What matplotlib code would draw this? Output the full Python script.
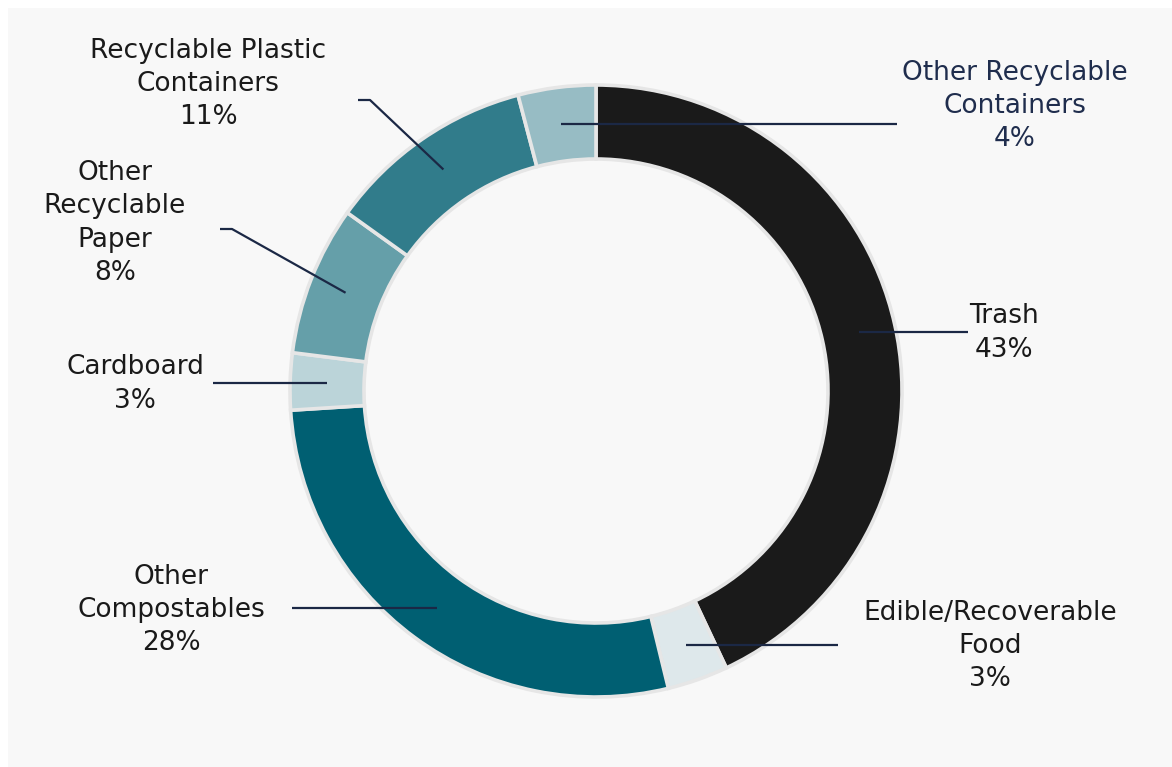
import numpy as np
import matplotlib
matplotlib.use("Agg")
import matplotlib.pyplot as plt
from matplotlib.patches import Rectangle

# clockwise from 12 o'clock
labels = ["Trash", "Edible/Recoverable\nFood", "Other\nCompostables", "Cardboard",
          "Other\nRecyclable\nPaper", "Recyclable Plastic\nContainers",
          "Other Recyclable\nContainers"]
shares = [43.0, 3.2, 27.8, 3.0, 7.9, 11.0, 4.1]
colors = ["#1a1a1a", "#dee8eb", "#005f72", "#bbd4d9", "#659fa9", "#317c8b", "#97bcc4"]
text_colors = ["#1a1a1a"] * 6 + ["#1f2d4d"]

W, H = 1172, 767
CX, CY = 596, H - 391
R_OUT, WIDTH = 306, 74
R_MID = R_OUT - WIDTH / 2
LEADER = "#1b2845"

# label layout (pixel coords, y measured from top): text centre, leader end, optional elbow
label_pos = [(1004, 333), (990, 646), (171, 610), (135, 384), (115, 223), (208, 84), (1015, 106)]
leader_end = [968, 838, 292, 213, 220, 358, 897]
elbow = [None, None, None, None, (232, 229), (370, 100), None]

fig = plt.figure(figsize=(W / 100, H / 100), dpi=100)
ax = fig.add_axes([0, 0, 1, 1])
fig.patch.set_facecolor("white")
ax.add_patch(Rectangle((8, 0), W - 8, H - 8, facecolor="#f8f8f8", edgecolor="none", zorder=0))

wedges, _ = ax.pie(shares, colors=colors, startangle=90, counterclock=False,
                   center=(CX, CY), radius=R_OUT, frame=True,
                   wedgeprops=dict(width=WIDTH, edgecolor="#e6e6e6", linewidth=2.6))
ax.set_xlim(0, W)
ax.set_ylim(0, H)
ax.set_aspect("equal")
ax.axis("off")

for i, w in enumerate(wedges):
    ang = np.deg2rad((w.theta1 + w.theta2) / 2)
    x0 = CX + R_MID * np.cos(ang)
    y0 = CY + R_MID * np.sin(ang)
    if elbow[i] is None:
        xs, ys = [x0, leader_end[i]], [y0, y0]
    else:
        ex, ey = elbow[i]
        xs, ys = [x0, ex, leader_end[i]], [y0, H - ey, H - ey]
    ax.plot(xs, ys, color=LEADER, lw=1.6, solid_capstyle="butt", zorder=5)
    tx, ty = label_pos[i]
    ax.text(tx, H - ty, f"{labels[i]}\n{shares[i]:.0f}%", ha="center", va="center",
            fontsize=19, family="DejaVu Sans", color=text_colors[i], linespacing=1.36)

fig.savefig("out.png", dpi=100)
